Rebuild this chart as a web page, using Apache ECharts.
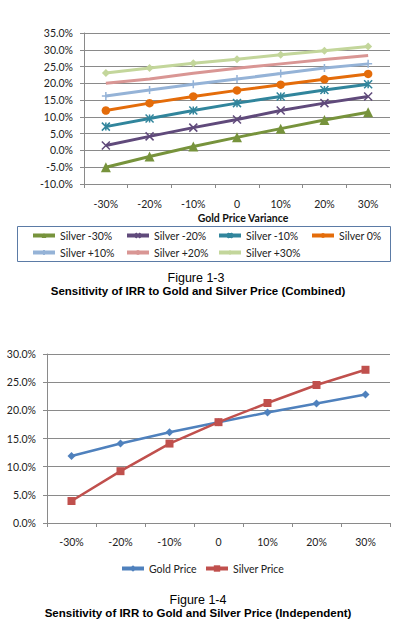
<!DOCTYPE html>
<html><head><meta charset="utf-8">
<script src="https://cdn.jsdelivr.net/npm/echarts@6/dist/echarts.min.js"></script>
<style>html,body{margin:0;padding:0;background:#fff}#c{width:412px;height:638px}</style>
</head><body><div id="c"></div>
<script>
// ---- data ----
const categories = ['-30%','-20%','-10%','0','10%','20%','30%'];
const silverM30 = [-5.0,-1.8,1.2,3.9,6.5,9.1,11.4];
const silverM20 = [1.5,4.2,6.8,9.2,11.9,14.1,16.1];
const silverM10 = [7.1,9.5,11.9,14.1,16.1,18.0,19.7];
const silver0   = [11.9,14.1,16.1,17.9,19.6,21.2,22.8];
const silverP10 = [16.2,18.0,19.7,21.3,22.9,24.6,25.8];
const silverP20 = [20.0,21.3,23.0,24.5,25.8,27.1,28.3];
const silverP30 = [23.1,24.6,26.0,27.2,28.5,29.7,31.0];
const goldPrice   = [11.9,14.1,16.1,17.9,19.6,21.2,22.8];
const silverPrice = [3.9,9.2,14.1,17.9,21.3,24.5,27.2];
const topNames = ['Silver -30%','Silver -20%','Silver -10%','Silver 0%','Silver +10%','Silver +20%','Silver +30%'];
const bottomNames = ['Gold Price','Silver Price'];

// ---- styles ----
const F = 'Lato, "Noto Sans", sans-serif';
const TF = '"Liberation Sans", Arial, sans-serif';
const grey = '#8a8a8a';
const topColors = ['#77933C','#604A7B','#31859C','#E46C0A','#95B3D7','#D99694','#C3D69B'];
const X_SYM = 'path://M0,0L10,10M10,0L0,10';
const PLUS_SYM = 'path://M5,0L5,10M0,5L10,5';
const AST_SYM = 'path://M0,0L10,10M10,0L0,10M5,0L5,10';
const topSymbols = ['triangle', X_SYM, AST_SYM, 'circle', PLUS_SYM, 'none', 'diamond'];
const topSizes = [10, 8, 8, 8.5, 8, 0, 8];
const topData = [silverM30,silverM20,silverM10,silver0,silverP10,silverP20,silverP30];

function yAx(gi, min, max) {
  return {
    gridIndex: gi, type: 'value', min: min, max: max, interval: 5,
    axisLine: {show: true, lineStyle: {color: grey, width: 1}},
    axisTick: {show: true, length: 4, lineStyle: {color: grey}},
    splitLine: {show: true, lineStyle: {color: grey, width: 1}},
    axisLabel: {margin: 11, color: '#222', fontFamily: F, fontSize: 10.5,
      formatter: v => v.toFixed(1) + '%'}
  };
}
function xAx(gi, margin, extra) {
  return Object.assign({
    gridIndex: gi, type: 'category', data: categories, boundaryGap: true,
    axisLine: {show: true, onZero: false, lineStyle: {color: grey, width: 1}},
    axisTick: {show: true, length: 4, alignWithLabel: false, lineStyle: {color: grey}},
    axisLabel: {margin: margin, color: '#222', fontFamily: F, fontSize: 10.5}
  }, extra || {});
}

const series = [];
topNames.forEach((n, i) => {
  const s = {
    name: n, type: 'line', xAxisIndex: 0, yAxisIndex: 0, data: topData[i],
    symbol: topSymbols[i], symbolSize: topSizes[i], showSymbol: topSymbols[i] !== 'none',
    lineStyle: {color: topColors[i], width: 3},
    itemStyle: {color: topColors[i]}
  };
  if (topSymbols[i].startsWith('path://')) {
    s.itemStyle = {color: topColors[i], borderColor: topColors[i], borderWidth: 1.5};
  }
  series.push(s);
});
series.push({name: bottomNames[0], type: 'line', xAxisIndex: 1, yAxisIndex: 1, data: goldPrice,
  symbol: 'diamond', symbolSize: 8, lineStyle: {color: '#4F81BD', width: 2.5}, itemStyle: {color: '#4F81BD'}});
series.push({name: bottomNames[1], type: 'line', xAxisIndex: 1, yAxisIndex: 1, data: silverPrice,
  symbol: 'rect', symbolSize: 8, lineStyle: {color: '#C0504D', width: 2.5}, itemStyle: {color: '#C0504D'}});

const legText = {fontFamily: F, fontSize: 10.5, color: '#222'};
const legendPos = [[31,230],[125,230],[217,230],[310,230],[31,247],[125,247],[217,247]];
const legends = topNames.map((n, i) => ({
  data: [n], left: legendPos[i][0], top: legendPos[i][1], padding: 0,
  itemWidth: 22, itemHeight: 6, lineStyle: {width: 4}, textStyle: legText
}));
legends.push({data: [bottomNames[0]], left: 120, top: 563, padding: 0,
  itemWidth: 22, itemHeight: 8, lineStyle: {width: 4}, textStyle: legText});
legends.push({data: [bottomNames[1]], left: 204, top: 563, padding: 0,
  itemWidth: 22, itemHeight: 8, lineStyle: {width: 4}, textStyle: legText});

const chart = echarts.init(document.getElementById('c'), null, {renderer: 'svg'});
chart.setOption({
  animation: false,
  backgroundColor: '#fff',
  grid: [
    {left: 84, top: 33, width: 306, height: 151},
    {left: 47, top: 354, width: 343, height: 169}
  ],
  xAxis: [
    xAx(0, 14, {name: 'Gold Price Variance', nameLocation: 'middle', nameGap: 28,
      nameTextStyle: {fontFamily: F, fontSize: 10.5, fontWeight: 'bold', color: '#111', padding: [0,0,0,12]}}),
    xAx(1, 13)
  ],
  yAxis: [yAx(0, -10, 35), yAx(1, 0, 30)],
  legend: legends,
  series: series,
  graphic: [
    {type: 'rect', shape: {x: 17.5, y: 226.5, width: 373, height: 35}, style: {fill: 'none', stroke: '#5B7BA6', lineWidth: 1}},
    {type: 'text', x: 196, y: 278, style: {text: 'Figure 1-3', fontSize: 12.5, fontFamily: TF, fill: '#000', align: 'center', verticalAlign: 'middle'}},
    {type: 'text', x: 198, y: 290.5, style: {text: 'Sensitivity of IRR to Gold and Silver Price (Combined)', fontSize: 11.5, fontWeight: 'bold', fontFamily: TF, fill: '#000', align: 'center', verticalAlign: 'middle'}},
    {type: 'text', x: 198, y: 600, style: {text: 'Figure 1-4', fontSize: 12.5, fontFamily: TF, fill: '#000', align: 'center', verticalAlign: 'middle'}},
    {type: 'text', x: 198, y: 612.5, style: {text: 'Sensitivity of IRR to Gold and Silver Price (Independent)', fontSize: 11.5, fontWeight: 'bold', fontFamily: TF, fill: '#000', align: 'center', verticalAlign: 'middle'}}
  ]
});
</script></body></html>
